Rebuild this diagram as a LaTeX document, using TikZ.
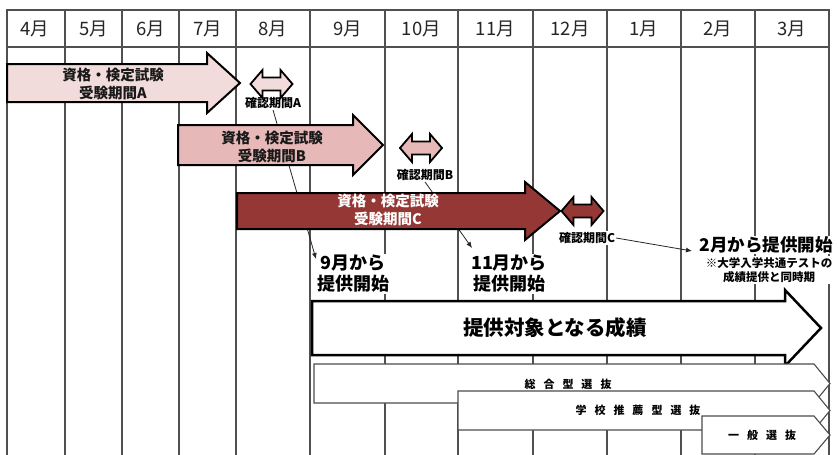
\documentclass[tikz,border=0pt]{standalone}
\usepackage{fontspec}
\newfontfamily\jp{Noto Sans CJK JP}
\usetikzlibrary{arrows.meta}
\definecolor{pinkA}{HTML}{F2DCDB}
\definecolor{pinkB}{HTML}{E6B9B8}
\definecolor{redC}{HTML}{953735}
\definecolor{gridc}{HTML}{505050}
\newcommand\jg{\hspace{8pt}}
\begin{document}
\begin{tikzpicture}[x=1pt,y=-1pt,
  gridline/.style={draw=gridc,line width=1.3pt},
  month/.style={font=\jp\fontsize{18.5}{18.5}\selectfont, text=black!85, inner sep=0pt},
  fat/.style={draw=black,line width=2pt,line join=miter},
  inlbl/.style={font=\jp\bfseries\fontsize{14.5}{18}\selectfont, align=center, inner sep=0pt},
  chk/.style={font=\jp\bfseries\fontsize{12}{12}\selectfont, fill=white, inner sep=1pt},
  startlbl/.style={font=\jp\bfseries\fontsize{18}{21}\selectfont, align=center, fill=white, inner sep=1pt},
  notelbl/.style={font=\jp\bfseries\fontsize{11.5}{14}\selectfont, align=center, fill=white, inner sep=1pt},
  conn/.style={draw=black!85, line width=0.8pt, -{Latex[length=6pt,width=5pt]}},
  plate/.style={draw=black!70, fill=white, line width=1.1pt, line join=miter},
  platelbl/.style={font=\jp\bfseries\fontsize{11}{11}\selectfont, inner sep=0pt},
  dbl/.pic={\path[pic actions] (-21,0) -- (-9,-14) -- (-9,-6.5) -- (9,-6.5) -- (9,-14) -- (21,0) -- (9,14) -- (9,6.5) -- (-9,6.5) -- (-9,14) -- cycle;}
]
\path[fill=white] (0,0) rectangle (838,455);
\useasboundingbox (0,0) rectangle (838,455);

% grid
\foreach \x in {7,65,122,179,236,310,385,458,533,607,681,755,829}
  \draw[gridline] (\x,10) -- (\x,456);
\draw[gridline] (6.35,10) -- (829.65,10);
\draw[gridline] (6.35,47) -- (829.65,47);
\foreach \x/\m in {35/4,93.5/5,150.5/6,207.5/7,273/8,347.5/9,421.5/10,495.5/11,570/12,644/1,718/2,792/3}
  \node[month] (m\m) at (\x,28.5) {\m 月};

% labels outside arrows
\node[chk] (cA) at (273,103) {確認期間A};
\node[chk] (cB) at (425,175) {確認期間B};
\node[chk] (cC) at (587,238) {確認期間C};
\node[startlbl] (s9) at (353,274) {9月から\\提供開始};
\node[startlbl] (s11) at (509,274) {11月から\\提供開始};
\node[startlbl, font=\jp\bfseries\fontsize{17.5}{21}\selectfont] (s2) at (766,245) {2月から提供開始};
\node[notelbl] (n2) at (769,270) {※大学入学共通テストの\\成績提供と同時期};

% connectors
\coordinate (e9) at (316,259);
\coordinate (e11) at (472,248);
\coordinate (e2) at (692,251);
\draw[conn] (cA.south) -- (e9);
\draw[conn] (cB.south) -- (e11);
\draw[conn] (cC.east) -- (e2);

% fat arrows
\draw[fat, fill=pinkA] (7,64) -- (207,64) -- (207,53) -- (240,83) -- (207,113) -- (207,102) -- (7,102) -- cycle;
\node[inlbl, text=black!90] (tA) at (113,84) {資格・検定試験\\受験期間A};
\draw[fat, fill=pinkB] (178,125) -- (353,125) -- (353,115) -- (383,145) -- (353,175) -- (353,165) -- (178,165) -- cycle;
\node[inlbl, text=black!90] (tB) at (272,147) {資格・検定試験\\受験期間B};
\draw[fat, fill=redC] (237,193) -- (525,193) -- (525,182) -- (560,211) -- (525,240) -- (525,229) -- (237,229) -- cycle;
\node[inlbl, text=white] (tC) at (388,210) {資格・検定試験\\受験期間C};

% double arrows
\pic[draw=black, fill=pinkA, line width=1.8pt, line join=miter] at (271.5,84) {dbl};
\pic[draw=black, fill=pinkB, line width=1.8pt, line join=miter] at (421,148) {dbl};
\pic[draw=black, fill=redC, line width=1.8pt, line join=miter] at (582.5,211) {dbl};

% big white arrow
\draw[fat, fill=white, line width=2.5pt] (312,301) -- (785,301) -- (785,290) -- (821,328) -- (785,366) -- (785,355) -- (312,355) -- cycle;
\node[font=\jp\bfseries\fontsize{20.5}{20.5}\selectfont, inner sep=0pt] (tt) at (555,328) {提供対象となる成績};

% selection plates
\draw[plate] (314,364) -- (814,364) -- (830,383.5) -- (814,403) -- (314,403) -- cycle;
\node[platelbl] (p1) at (568,384) {総\jg 合\jg 型\jg 選\jg 抜};
\draw[plate] (458,391) -- (814,391) -- (830,410.5) -- (814,430) -- (458,430) -- cycle;
\node[platelbl] (p2) at (638,410) {学\jg 校\jg 推\jg 薦\jg 型\jg 選\jg 抜};
\draw[plate] (702,416) -- (814,416) -- (830,435) -- (814,454) -- (702,454) -- cycle;
\node[platelbl] (p3) at (762,435) {一\jg 般\jg 選\jg 抜};
\end{tikzpicture}
\end{document}
